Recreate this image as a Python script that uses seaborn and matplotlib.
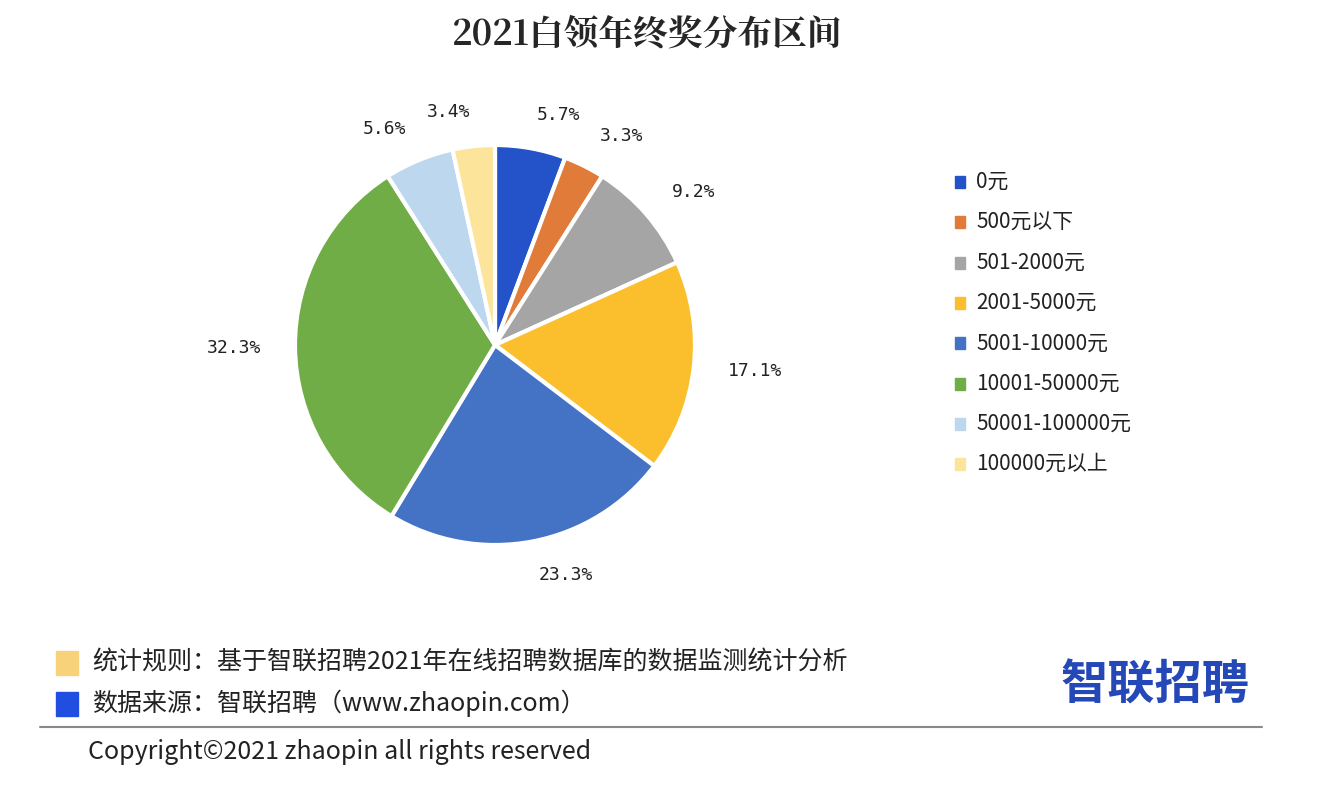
import matplotlib.pyplot as plt
import seaborn as sns
from matplotlib.patches import Rectangle

# data
categories = ['0元', '500元以下', '501-2000元', '2001-5000元', '5001-10000元',
              '10001-50000元', '50001-100000元', '100000元以上']
shares = [5.7, 3.3, 9.2, 17.1, 23.3, 32.3, 5.6, 3.4]
colors = ['#2452c8', '#e07b39', '#a5a5a5', '#fbbf2d', '#4472c4',
          '#70ad47', '#bdd7ee', '#fde49b']

sns.set_theme(style='white')
plt.rcParams['font.family'] = ['Noto Sans CJK SC', 'DejaVu Sans']

W, H = 1328, 788
fig = plt.figure(figsize=(W / 100, H / 100), dpi=100)
fig.patch.set_facecolor('white')

def px(x, y):
    return x / W, 1 - y / H

# title
fig.text(*px(647, 35), '2021白领年终奖分布区间', ha='center', va='center',
         fontsize=25, fontweight='heavy', family=['Noto Serif CJK SC', 'Noto Sans CJK SC'])

# pie
cx, cy, r = 495, 345, 200
ax = fig.add_axes([(cx - r) / W, 1 - (cy + r) / H, 2 * r / W, 2 * r / H])
wedges, texts = ax.pie(shares, colors=colors, startangle=90, counterclock=False,
                       labels=[f'{v}%' for v in shares], labeldistance=1.17,
                       wedgeprops=dict(edgecolor='white', linewidth=3),
                       textprops=dict(fontsize=13, color='#222222', family='DejaVu Sans Mono'))
ax.set_xlim(-1, 1)
ax.set_ylim(-1, 1)
ax.set_aspect('equal')

# legend
ly0, step = 182, 40.3
for i, (cat, col) in enumerate(zip(categories, colors)):
    y = ly0 + i * step
    fig.patches.append(Rectangle(px(955, y + 6), 10 / W, 12 / H, color=col,
                                 transform=fig.transFigure, figure=fig))
    fig.text(*px(976, y), cat, ha='left', va='center', fontsize=15, color='#222222')

# footer
fig.patches.append(Rectangle(px(56, 675), 22 / W, 24 / H, color='#f8d27a',
                             transform=fig.transFigure, figure=fig))
fig.patches.append(Rectangle(px(56, 716), 22 / W, 24 / H, color='#1f4ee0',
                             transform=fig.transFigure, figure=fig))
fig.text(*px(92, 662), '统计规则：基于智联招聘2021年在线招聘数据库的数据监测统计分析',
         ha='left', va='center', fontsize=18, color='#222222')
fig.text(*px(92, 703), '数据来源：智联招聘（www.zhaopin.com）',
         ha='left', va='center', fontsize=18, color='#222222')
fig.text(*px(1155, 685), '智联招聘', ha='center', va='center', fontsize=34,
         fontweight='bold', color='#2448b8')
fig.add_artist(plt.Line2D([40 / W, 1262 / W], [1 - 727 / H] * 2,
                          color='#888888', linewidth=1.5, transform=fig.transFigure))
fig.text(*px(88, 752), 'Copyright©2021 zhaopin all rights reserved',
         ha='left', va='center', fontsize=18, color='#222222')

fig.savefig('out.png', dpi=100)
